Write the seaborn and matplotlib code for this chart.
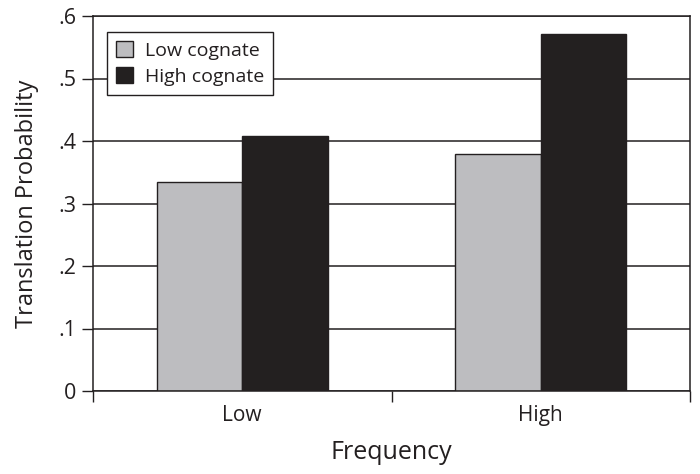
import matplotlib
matplotlib.use("Agg")
import matplotlib.pyplot as plt
import seaborn as sns
import pandas as pd

frequency = ["Low", "High"]
cognate_levels = ["Low cognate", "High cognate"]
low_cognate = [0.335, 0.379]
high_cognate = [0.408, 0.572]
y_ticks = [0, 0.1, 0.2, 0.3, 0.4, 0.5, 0.6]
y_labels = ["0", ".1", ".2", ".3", ".4", ".5", ".6"]

df = pd.DataFrame({
    "Frequency": frequency * 2,
    "Cognate": [cognate_levels[0]] * 2 + [cognate_levels[1]] * 2,
    "Probability": low_cognate + high_cognate,
})

sns.set_style("white")
plt.rcParams["font.family"] = ["Open Sans", "DejaVu Sans"]

GRAY = "#bcbdc0"
BLACK = "#231f20"

fig = plt.figure(figsize=(7, 4.74), dpi=100)
ax = fig.add_axes([93 / 700, (474 - 391) / 474, 597 / 700, 375 / 474])

sns.barplot(data=df, x="Frequency", y="Probability", hue="Cognate",
            order=frequency, hue_order=cognate_levels,
            palette=[GRAY, BLACK], width=0.572, gap=0,
            edgecolor=BLACK, linewidth=1.0, ax=ax, errorbar=None)

ax.set_xlim(-0.5, 1.5)
ax.set_ylim(0, 0.6)
ax.set_yticks(y_ticks)
ax.set_yticklabels(y_labels)
ax.yaxis.grid(True, color=BLACK, linewidth=1.1)
ax.xaxis.grid(False)
ax.set_axisbelow(True)

ax.set_xticks([-0.5, 0.5, 1.5], minor=True)
ax.tick_params(axis="x", which="major", length=0, labelsize=15, pad=10, colors=BLACK)
ax.tick_params(axis="x", which="minor", length=8, width=1, color=BLACK, bottom=True, direction="out")
ax.tick_params(axis="y", which="major", length=8, width=1, color=BLACK, left=True,
               direction="out", labelsize=15.5, pad=4, labelcolor=BLACK)

for s in ax.spines.values():
    s.set_visible(True)
    s.set_color(BLACK)
    s.set_linewidth(1.1)

ax.set_xlabel("Frequency", fontsize=18, color=BLACK, labelpad=10)
ax.set_ylabel("Translation Probability", fontsize=17, color=BLACK, labelpad=14)

leg = ax.legend(loc="upper left", bbox_to_anchor=(14 / 597, 1 - 16 / 375),
                frameon=True, fancybox=False, edgecolor=BLACK, framealpha=1,
                fontsize=14, handlelength=0.9, handleheight=0.9,
                handletextpad=0.6, borderpad=0.45, labelspacing=0.4,
                borderaxespad=0)
leg.get_frame().set_linewidth(1.0)
for h in leg.legend_handles:
    h.set_edgecolor(BLACK)
    h.set_linewidth(1.0)
for t in leg.get_texts():
    t.set_color(BLACK)

fig.savefig("out.png", dpi=100)
